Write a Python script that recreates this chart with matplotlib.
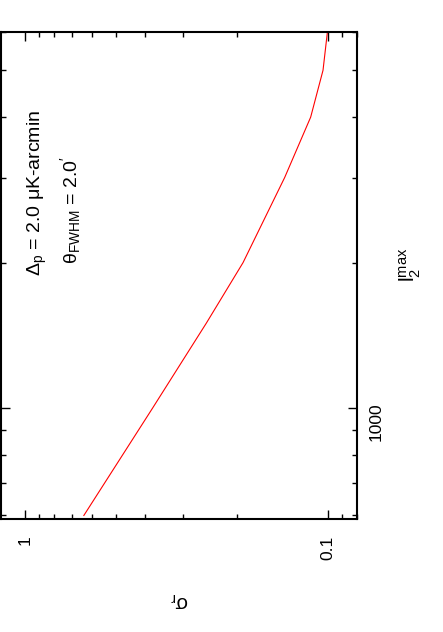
import matplotlib
matplotlib.use('Agg')
import matplotlib.pyplot as plt
from matplotlib.ticker import FixedLocator, FixedFormatter, LogLocator, NullFormatter

plt.rcParams['font.family'] = ['Liberation Sans', 'DejaVu Sans']
plt.rcParams['mathtext.fontset'] = 'custom'
plt.rcParams['mathtext.rm'] = 'Liberation Sans'
plt.rcParams['mathtext.it'] = 'Liberation Sans:italic'
plt.rcParams['mathtext.default'] = 'rm'

l2max = [600, 1000, 1500, 2000, 3000, 4000, 5000, 6000]
sigma_r = [0.639, 0.379, 0.2516, 0.1904, 0.1387, 0.1138, 0.1036, 0.1002]

x_major = [1, 0.1]
x_labels = ['1', '0.1']
y_major = [1000]
y_labels = ['1000']

W, H = 443, 632
fig = plt.figure(figsize=(W / 100, H / 100), dpi=100)
# frame in pixels: left 1, right 357, top 32, bottom 519
ax = fig.add_axes([1 / W, 1 - 519 / H, 356 / W, 487 / H])

# the whole gnuplot page is turned 90 deg, so sigma_r runs along x here
ax.plot(sigma_r, l2max, color='#ff0000', lw=0.8)

ax.set_xscale('log')
ax.set_yscale('log')
ax.set_xlim(1.2, 0.08)
ax.set_ylim(590, 6000)

ax.xaxis.set_major_locator(FixedLocator(x_major))
ax.xaxis.set_major_formatter(FixedFormatter(x_labels))
ax.xaxis.set_minor_locator(LogLocator(base=10, subs=range(2, 10)))
ax.xaxis.set_minor_formatter(NullFormatter())
ax.yaxis.set_major_locator(FixedLocator(y_major))
ax.yaxis.set_major_formatter(FixedFormatter(y_labels))
ax.yaxis.set_minor_locator(LogLocator(base=10, subs=range(2, 10)))
ax.yaxis.set_minor_formatter(NullFormatter())

ax.tick_params(which='both', direction='in', top=True, bottom=True,
               left=True, right=True, width=1.0, labelsize=12.5)
ax.tick_params(which='major', length=6.5)
ax.tick_params(which='minor', length=3.3)
ax.tick_params(axis='x', labelrotation=90, pad=12)
ax.tick_params(axis='y', labelleft=False, labelright=True,
               labelrotation=90, pad=8.6)
for s in ax.spines.values():
    s.set_linewidth(1.5)

ax.text(40 / 356, 243 / 487, r'$\Delta_{p}$ = 2.0 μK-arcmin',
        transform=ax.transAxes, rotation=90, rotation_mode='anchor',
        ha='left', va='baseline', fontsize=14)
ax.text(76 / 356, 255 / 487, r"$\theta_{FWHM}$ = 2.0$^{\prime}$",
        transform=ax.transAxes, rotation=90, rotation_mode='anchor',
        ha='left', va='baseline', fontsize=14)

fig.text(410 / W, 1 - 265 / H, r'$l_2^{max}$', rotation=90,
         ha='center', va='center', fontsize=15)
fig.text(179 / W, 1 - 600 / H, r'$\sigma_r$', rotation=180,
         ha='center', va='center', fontsize=14.5)

fig.savefig('out.png', dpi=100)
